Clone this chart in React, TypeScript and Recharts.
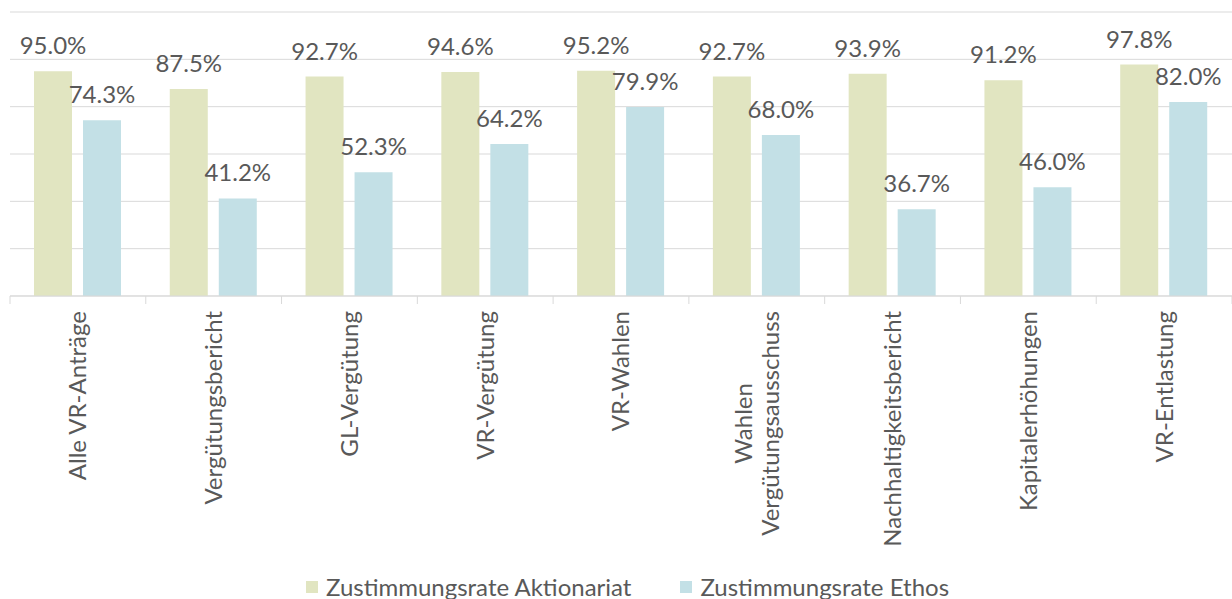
import { BarChart, Bar, XAxis, YAxis, CartesianGrid, LabelList } from 'recharts';

const categories = [
  'Alle VR-Anträge',
  'Vergütungsbericht',
  'GL-Vergütung',
  'VR-Vergütung',
  'VR-Wahlen',
  'Wahlen\nVergütungsausschuss',
  'Nachhaltigkeitsbericht',
  'Kapitalerhöhungen',
  'VR-Entlastung',
];
const aktionariat = [95.0, 87.5, 92.7, 94.6, 95.2, 92.7, 93.9, 91.2, 97.8];
const ethos = [74.3, 41.2, 52.3, 64.2, 79.9, 68.0, 36.7, 46.0, 82.0];
const yTicks = [0, 20, 40, 60, 80, 100, 120];

const seriesNames = ['Zustimmungsrate Aktionariat', 'Zustimmungsrate Ethos'];
const COLORS = ['#E1E5C1', '#C3E0E6'];
const TEXT = '#595959';
const GRID = '#D9D9D9';
const FONT = 'Lato, "Open Sans", sans-serif';
const FW = 400;
const FS = 24;

const W = 1232;
const H = 599;
const LEFT = 10;
const TOP = 12;
const AXIS_Y = 296;

const data = categories.map((name, i) => ({
  name,
  a: aktionariat[i],
  e: ethos[i],
}));

const band = (W - LEFT) / categories.length;

let canvasCtx: CanvasRenderingContext2D | null = null;
function measure(s: string, size: number) {
  if (!canvasCtx) canvasCtx = document.createElement('canvas').getContext('2d');
  if (!canvasCtx) return s.length * size * 0.5;
  canvasCtx.font = `${FW} ${size}px Lato`;
  return canvasCtx.measureText(s).width;
}

function CategoryTick(props: any) {
  const { x, payload, index } = props;
  const lines: string[] = String(payload.value).split('\n');
  const top = AXIS_Y + 15;
  const left = x - band / 2;
  const longest = Math.max(...lines.map((l) => measure(l, FS)));
  const lh = 27;
  return (
    <g>
      <line x1={left} x2={left} y1={AXIS_Y} y2={AXIS_Y + 8} stroke={GRID} />
      {index === categories.length - 1 && (
        <line x1={left + band} x2={left + band} y1={AXIS_Y} y2={AXIS_Y + 8} stroke={GRID} />
      )}
      {lines.map((l, i) => {
        const cx = x + (i - (lines.length - 1) / 2) * lh;
        const cy = lines.length > 1 ? top + longest / 2 : top;
        return (
          <text
            key={i}
            x={cx}
            y={cy}
            dy="0.35em"
            transform={`rotate(-90 ${cx} ${cy})`}
            textAnchor={lines.length > 1 ? 'middle' : 'end'}
            fill={TEXT}
            fontSize={FS}
            fontWeight={FW}
            fontFamily={FONT}
          >
            {l}
          </text>
        );
      })}
    </g>
  );
}

const fmt = (v: any) => `${Number(v).toFixed(1)}%`;

export default function App() {
  return (
    <div style={{ position: 'absolute', left: 0, top: 0, width: W, height: H, fontFamily: FONT }}>
      <BarChart
        width={W}
        height={H}
        data={data}
        margin={{ top: TOP, right: 0, left: LEFT, bottom: 0 }}
        barSize={38}
        barGap={11}
      >
        <CartesianGrid vertical={false} stroke={GRID} />
        <YAxis hide domain={[0, 120]} ticks={yTicks} />
        <XAxis
          dataKey="name"
          height={H - AXIS_Y}
          interval={0}
          axisLine={{ stroke: GRID }}
          tickLine={false}
          tick={<CategoryTick />}
        />
        <Bar dataKey="a" name={seriesNames[0]} fill={COLORS[0]} isAnimationActive={false}>
          <LabelList dataKey="a" position="top" offset={17} formatter={fmt} fill={TEXT} fontSize={FS} fontWeight={FW} fontFamily={FONT} />
        </Bar>
        <Bar dataKey="e" name={seriesNames[1]} fill={COLORS[1]} isAnimationActive={false}>
          <LabelList dataKey="e" position="top" offset={17} formatter={fmt} fill={TEXT} fontSize={FS} fontWeight={FW} fontFamily={FONT} />
        </Bar>
      </BarChart>
      <div
        style={{
          position: 'absolute',
          left: 306,
          top: 573,
          display: 'flex',
          alignItems: 'center',
          color: TEXT,
          fontSize: FS,
          fontWeight: FW,
          lineHeight: '28px',
          whiteSpace: 'nowrap',
        }}
      >
        {seriesNames.map((n, i) => (
          <div key={n} style={{ display: 'flex', alignItems: 'center', marginRight: i === 0 ? 49 : 0 }}>
            <span style={{ width: 12, height: 12, background: COLORS[i], marginRight: 8, display: 'inline-block' }} />
            <span>{n}</span>
          </div>
        ))}
      </div>
    </div>
  );
}
